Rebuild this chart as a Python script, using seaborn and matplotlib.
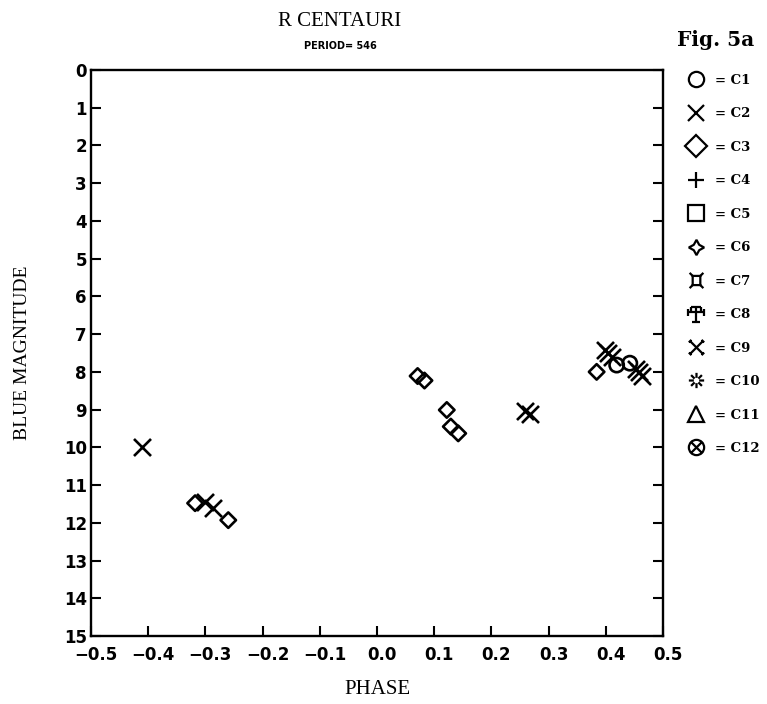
import numpy as np
import pandas as pd
import seaborn as sns
import matplotlib
matplotlib.use("Agg")
import matplotlib.pyplot as plt
import matplotlib.transforms as mtransforms
from matplotlib.path import Path
from matplotlib.lines import Line2D

# ---------------- data ----------------
c1_phase = [0.419, 0.442]
c1_mag = [7.82, 7.77]
c2_phase = [-0.411, -0.300, -0.286, 0.259, 0.267, 0.398, 0.404, 0.410, 0.452, 0.458, 0.464]
c2_mag = [10.00, 11.44, 11.62, 9.04, 9.12, 7.42, 7.51, 7.60, 7.92, 8.01, 8.10]
c3_phase = [-0.318, -0.260, 0.071, 0.083, 0.122, 0.129, 0.142, 0.384]
c3_mag = [11.48, 11.93, 8.11, 8.23, 9.01, 9.45, 9.63, 8.00]

series_names = ["C1", "C2", "C3", "C4", "C5", "C6", "C7", "C8", "C9", "C10", "C11", "C12"]
x_ticks = [-0.5, -0.4, -0.3, -0.2, -0.1, 0.0, 0.1, 0.2, 0.3, 0.4, 0.5]
y_ticks = list(range(0, 16))

# ---------------- custom marker paths ----------------
def lines_path(segments):
    verts, codes = [], []
    for (a, b) in segments:
        verts += [a, b]
        codes += [Path.MOVETO, Path.LINETO]
    return Path(verts, codes)

circ = Path.unit_circle()
m_c6 = (4, 1, 0)
m_c7 = lines_path([((-0.5, -0.6), (0.5, -0.6)), ((-0.5, 0.6), (0.5, 0.6)),
                   ((-0.5, -0.6), (-0.5, 0.6)), ((0.5, -0.6), (0.5, 0.6)),
                   ((-0.5, 0.6), (-0.9, 1.0)), ((0.5, 0.6), (0.9, 1.0)),
                   ((-0.5, -0.6), (-0.9, -1.0)), ((0.5, -0.6), (0.9, -1.0))])
m_c8 = lines_path([((0, -1), (0, 1)), ((-1, 0.2), (1, 0.2)), ((-0.5, -1), (0.5, -1)),
                   ((-1, -0.3), (-1, 0.7)), ((1, -0.3), (1, 0.7)), ((-0.6, 0.9), (0.6, 0.9)),
                   ((-0.6, 0.9), (-0.6, 0.2)), ((0.6, 0.9), (0.6, 0.2))])
m_c9 = lines_path([((-1, -1), (1, 1)), ((-1, 1), (1, -1)),
                   ((-1.2, -0.8), (-0.8, -1.2)), ((0.8, 1.2), (1.2, 0.8)),
                   ((-1.2, 0.8), (-0.8, 1.2)), ((0.8, -1.2), (1.2, -0.8))])
segs10 = []
for ang in np.deg2rad([0, 45, 90, 135, 180, 225, 270, 315]):
    segs10.append(((0.35 * np.cos(ang), 0.35 * np.sin(ang)), (np.cos(ang), np.sin(ang))))
m_c10 = lines_path(segs10)
m_c12 = Path.make_compound_path(
    circ, lines_path([((-0.7, -0.7), (0.7, 0.7)), ((-0.7, 0.7), (0.7, -0.7))]))

markers = {"C1": "o", "C2": "x", "C3": "D", "C4": "+", "C5": "s", "C6": m_c6,
           "C7": m_c7, "C8": m_c8, "C9": m_c9, "C10": m_c10, "C11": "^", "C12": m_c12}

# ---------------- figure ----------------
sns.set_style("ticks")
plt.rcParams["font.family"] = ["Liberation Serif", "DejaVu Serif"]
plt.rcParams["text.color"] = "black"

fig = plt.figure(figsize=(7.67, 7.04), dpi=100)
ax = fig.add_axes([91 / 767, 1 - 636 / 704, (663 - 91) / 767, (636 - 70) / 704])

df = pd.concat([
    pd.DataFrame({"phase": c1_phase, "mag": c1_mag, "series": "C1"}),
    pd.DataFrame({"phase": c2_phase, "mag": c2_mag, "series": "C2"}),
    pd.DataFrame({"phase": c3_phase, "mag": c3_mag, "series": "C3"}),
], ignore_index=True)

sizes = {"C1": 105, "C2": 150, "C3": 62}
for name, sub in df.groupby("series"):
    mk = markers[name]
    if mk in ("x", "+"):
        sns.scatterplot(data=sub, x="phase", y="mag", marker=mk, color="black",
                        s=sizes[name], linewidth=1.9, ax=ax, legend=False)
    else:
        sns.scatterplot(data=sub, x="phase", y="mag", marker=mk, facecolors="none",
                        edgecolor="black", s=sizes[name], linewidth=1.9, ax=ax, legend=False)

ax.set_xlim(-0.5, 0.5)
ax.set_ylim(15, 0)
ax.set_xticks(x_ticks)
ax.set_xticklabels([f"{v:.1f}".replace("-", "\u2212") for v in x_ticks])
ax.set_yticks(y_ticks)
ax.set_yticklabels([str(v) for v in y_ticks])
ax.tick_params(axis="both", direction="in", length=7, width=1.5, colors="black")
ax.tick_params(axis="y", right=True, left=True, pad=3)
ax.tick_params(axis="x", top=False, pad=7)
shift = mtransforms.ScaledTranslation(5 / 100, 0, fig.dpi_scale_trans)
for lab in ax.get_xticklabels():
    lab.set_transform(lab.get_transform() + shift)
for lab in ax.get_xticklabels() + ax.get_yticklabels():
    lab.set_fontweight("bold")
    lab.set_fontfamily(["DejaVu Sans"])
    lab.set_fontsize(12)
for sp in ax.spines.values():
    sp.set_visible(True)
    sp.set_linewidth(1.7)
    sp.set_color("black")

ax.set_xlabel("")
ax.set_ylabel("")
fig.text(377 / 767, 1 - 689 / 704, "PHASE", ha="center", va="center", fontsize=15)
fig.text(23 / 767, 1 - 353 / 704, "BLUE MAGNITUDE", ha="center", va="center",
         rotation=90, fontsize=14)
fig.text(340 / 767, 1 - 21 / 704, "R CENTAURI", ha="center", va="center", fontsize=15)
fig.text(340 / 767, 1 - 46 / 704, "PERIOD= 546", ha="center", va="center",
         fontsize=7, fontweight="bold", family=["DejaVu Sans"])
fig.text(716 / 767, 1 - 40 / 704, "Fig. 5a", ha="center", va="center",
         fontsize=14.5, fontweight="bold", family=["DejaVu Serif"])

handles = []
for name in series_names:
    mk = markers[name]
    handles.append(Line2D([], [], marker=mk, linestyle="none", color="black",
                          markerfacecolor="none", markeredgecolor="black",
                          markersize=11, markeredgewidth=1.6))
leg = fig.legend(handles, [f"= {n}" for n in series_names], loc="upper left",
                 bbox_to_anchor=(689 / 767, 1 - 74 / 704), frameon=False,
                 prop={"family": "DejaVu Serif", "weight": "bold", "size": 9.5},
                 handlelength=1.1, handletextpad=0.9, labelspacing=1.55,
                 borderpad=0, borderaxespad=0)
for t in leg.get_texts():
    t.set_color("black")

fig.savefig("out.png", dpi=100, facecolor="white")
